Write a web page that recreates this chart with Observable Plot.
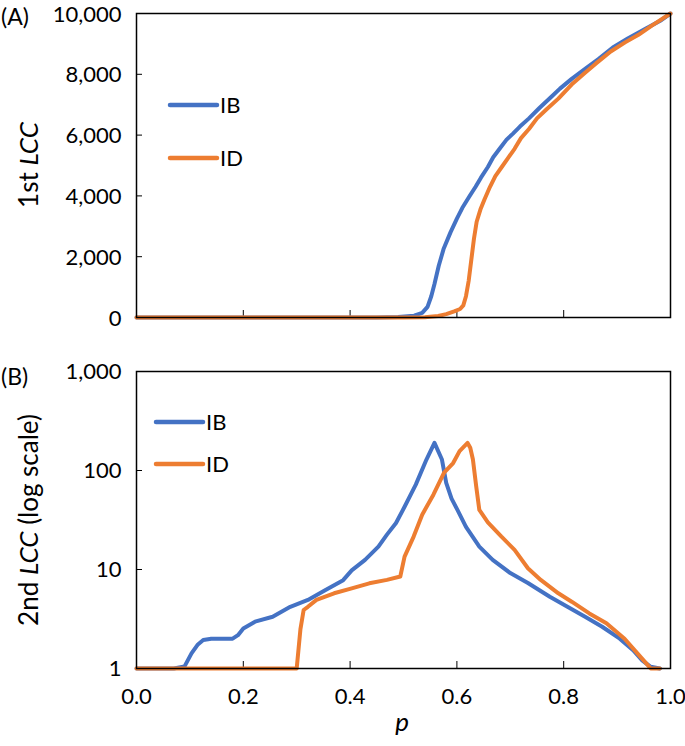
<!DOCTYPE html>
<html><head><meta charset="utf-8">
<script src="https://cdn.jsdelivr.net/npm/d3@7"></script>
<script src="https://cdn.jsdelivr.net/npm/@observablehq/plot@0.6"></script>
<style>
body{margin:0;background:#fff;}
#chart{position:relative;width:685px;height:746px;font-family:Lato, sans-serif;background:#fff;}
#chart svg{display:block;}
</style></head><body><div id="chart"></div>
<script>
// ---- data ----
const seriesNames = ["IB", "ID"];
const seriesColors = ["#4472C4", "#ED7D31"];

const pA_IB = [0, 0.45, 0.49, 0.52, 0.535, 0.545, 0.552, 0.558, 0.566, 0.575, 0.588, 0.6, 0.61, 0.623, 0.635, 0.645, 0.658, 0.668, 0.68, 0.693, 0.705, 0.718, 0.735, 0.755, 0.775, 0.793, 0.815, 0.842, 0.865, 0.892, 0.92, 0.954, 0.98, 1.0];
const vA_IB = [0, 0, 20, 60, 150, 350, 700, 1100, 1700, 2250, 2800, 3250, 3600, 3970, 4300, 4600, 4950, 5270, 5550, 5850, 6050, 6280, 6550, 6900, 7230, 7530, 7850, 8200, 8500, 8880, 9180, 9510, 9750, 10000];
const pA_ID = [0, 0.5, 0.54, 0.565, 0.58, 0.595, 0.606, 0.612, 0.617, 0.622, 0.627, 0.632, 0.637, 0.644, 0.652, 0.662, 0.672, 0.684, 0.696, 0.708, 0.72, 0.735, 0.75, 0.768, 0.79, 0.817, 0.84, 0.86, 0.888, 0.915, 0.94, 0.965, 1.0];
const vA_ID = [0, 0, 10, 50, 110, 200, 280, 400, 700, 1200, 1900, 2600, 3150, 3550, 3900, 4300, 4650, 4950, 5250, 5550, 5900, 6200, 6550, 6850, 7200, 7700, 8050, 8350, 8750, 9050, 9300, 9600, 10000];

const pB_IB = [0, 0.07, 0.09, 0.103, 0.115, 0.125, 0.14, 0.18, 0.19, 0.2, 0.222, 0.255, 0.288, 0.321, 0.354, 0.387, 0.403, 0.428, 0.453, 0.469, 0.486, 0.502, 0.523, 0.543, 0.558, 0.572, 0.58, 0.59, 0.601, 0.617, 0.642, 0.667, 0.7, 0.733, 0.774, 0.807, 0.84, 0.872, 0.905, 0.93, 0.947, 0.963, 0.98];
const vB_IB = [1, 1, 1.05, 1.42, 1.75, 1.94, 2.0, 2.0, 2.17, 2.54, 2.97, 3.33, 4.2, 4.93, 6.2, 7.8, 9.8, 12.5, 17, 22.5, 29.5, 43, 72, 129, 190, 129, 75, 52, 40, 27, 17, 12.5, 9.2, 7.3, 5.3, 4.2, 3.33, 2.64, 2.0, 1.53, 1.21, 1.04, 1];
const pB_ID = [0, 0.3, 0.307, 0.313, 0.321, 0.337, 0.37, 0.403, 0.436, 0.469, 0.494, 0.502, 0.519, 0.535, 0.556, 0.576, 0.593, 0.605, 0.62, 0.625, 0.63, 0.636, 0.642, 0.658, 0.683, 0.708, 0.733, 0.757, 0.79, 0.815, 0.848, 0.88, 0.914, 0.938, 0.955, 0.963, 0.98];
const vB_ID = [1, 1, 2.5, 3.9, 4.2, 4.93, 5.75, 6.45, 7.25, 7.85, 8.5, 13.5, 21.5, 35.8, 57, 95, 119, 157, 190, 170, 129, 70, 40, 30, 21.6, 15.8, 10.3, 7.85, 5.75, 4.73, 3.6, 2.86, 2.0, 1.42, 1.12, 1.0, 1];

const xTicks = [0, 0.2, 0.4, 0.6, 0.8, 1.0];
const yTicksA = [0, 2000, 4000, 6000, 8000, 10000];
const yTicksB = [1, 10, 100, 1000];

// ---- build tables ----
const toRows = (ps, vs, s) => ps.map((p, i) => ({p, v: vs[i], s}));
const dataA = [...toRows(pA_IB, vA_IB, "IB"), ...toRows(pA_ID, vA_ID, "ID")];
const dataB = [...toRows(pB_IB, vB_IB, "IB"), ...toRows(pB_ID, vB_ID, "ID")];

const FONT = "Lato, sans-serif";
const common = {
  width: 685, marginLeft: 136, marginRight: 15,
  style: {fontFamily: FONT, fontSize: "22px", color: "black", background: "white"},
  color: {domain: seriesNames, range: seriesColors}
};
const lineOpts = {x: "p", y: "v", stroke: "s", z: "s", strokeWidth: 4, strokeLinejoin: "round", strokeLinecap: "round"};
const blank = () => "";

const plotA = Plot.plot({
  ...common, height: 340, marginTop: 13, marginBottom: 23,
  x: {domain: [0, 1]},
  y: {domain: [0, 10000]},
  marks: [
    Plot.axisY({ticks: yTicksA, tickSize: -6, tickFormat: blank, label: null}),
    Plot.axisY({ticks: yTicksA, tickSize: 0, tickPadding: 15, dy: 1, tickFormat: d3.format(","), label: null}),
    Plot.axisX({ticks: xTicks, tickSize: -7, tickFormat: blank, label: null}),
    Plot.line(dataA, lineOpts),
    Plot.frame({stroke: "black", strokeWidth: 1.5})
  ]
});

const plotB = Plot.plot({
  ...common, height: 406, marginTop: 31, marginBottom: 78,
  x: {domain: [0, 1]},
  y: {type: "log", domain: [1, 1000]},
  marks: [
    Plot.axisY({ticks: yTicksB, tickSize: -6, tickFormat: blank, label: null}),
    Plot.axisY({ticks: yTicksB, tickSize: 0, tickPadding: 15, tickFormat: d3.format(","), label: null}),
    Plot.axisX({ticks: xTicks, tickSize: -7, tickFormat: blank, label: null}),
    Plot.axisX({ticks: xTicks, tickSize: 0, tickPadding: 20, tickFormat: d3.format(".1f"), label: null}),
    Plot.line(dataB, lineOpts),
    Plot.frame({stroke: "black", strokeWidth: 1.5})
  ]
});

const chart = document.getElementById("chart");
chart.append(plotA, plotB);

function addYTitle(svg, x, y, parts) {
  const t = d3.select(svg).append("text")
    .attr("transform", `translate(${x},${y}) rotate(-90)`)
    .attr("text-anchor", "middle").attr("font-family", FONT).attr("font-size", 26).attr("fill", "black");
  parts.forEach(([txt, it]) => t.append("tspan").text(txt).attr("font-style", it ? "italic" : "normal"));
}
function addText(svg, x, y, txt, size, italic, anchor) {
  d3.select(svg).append("text").attr("x", x).attr("y", y).text(txt)
    .attr("font-family", FONT).attr("font-size", size).attr("fill", "black")
    .attr("font-style", italic ? "italic" : "normal").attr("text-anchor", anchor || "start");
}
function addLegend(svg, x, ys) {
  seriesNames.forEach((n, i) => {
    d3.select(svg).append("line").attr("x1", x).attr("x2", x + 47).attr("y1", ys[i]).attr("y2", ys[i])
      .attr("stroke", seriesColors[i]).attr("stroke-width", 4.5).attr("stroke-linecap", "round");
    addText(svg, x + 50, ys[i] + 8, n, 22, false);
  });
}

addYTitle(plotA, 38, 165, [["1st ", false], ["LCC", true]]);
addYTitle(plotB, 38, 180, [["2nd ", false], ["LCC", true], [" (log scale)", false]]);
addText(plotA, 1, 25, "(A)", 23, false);
addText(plotB, 1, 45, "(B)", 23, false);
addText(plotB, 402, 391, "p", 26, true, "middle");
addLegend(plotA, 170, [105, 158]);
addLegend(plotB, 156, [82, 124]);
</script></body></html>
